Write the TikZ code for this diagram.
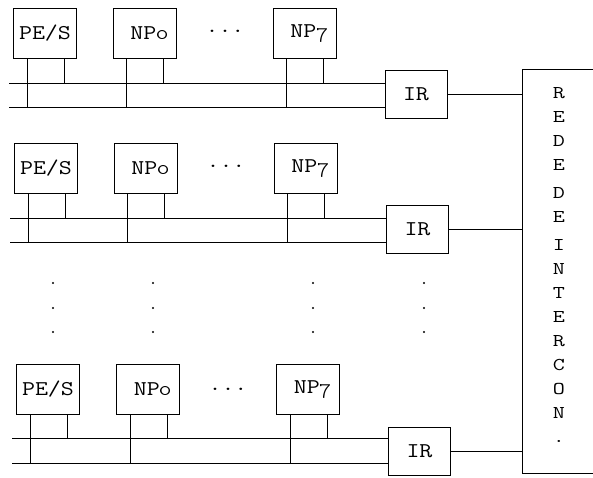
\documentclass[tikz,border=0pt]{standalone}
\usepackage{fix-cm}
\usepackage{graphicx}
\usetikzlibrary{positioning}

% letra de maquina de escrever, mais larga
\newcommand{\wide}[1]{\scalebox{1.2}[1]{#1}}

\begin{document}
\begin{tikzpicture}[
        x=1pt, y=-1pt, line width=0.9pt,
        box/.style={draw, minimum width=63pt, minimum height=50pt, inner sep=0pt, font=\fontencoding{OT1}\fontfamily{cmtt}\fontsize{21}{24}\selectfont},
        npbox/.style={box, text width=49pt, inner xsep=7pt, align=right},
        irbox/.style={draw, minimum width=62pt, minimum height=48pt, font=\fontencoding{OT1}\fontfamily{cmtt}\fontsize{21}{24}\selectfont},
        hdots/.style={font=\fontencoding{OT1}\fontfamily{cmtt}\fontsize{21}{24}\selectfont}
    ]
        \useasboundingbox (0,0) rectangle (593,478);

        % rede de interconexao
        \node[draw, minimum width=74pt, minimum height=404pt] (rede) at (559,271) {};
        \node[inner sep=0pt, font=\fontencoding{OT1}\fontfamily{cmtt}\fontsize{18}{24}\selectfont] (redetxt) at (559,266)
              {\scalebox{1.3}[1]{\begin{tabular}{@{}c@{}}R\\E\\D\\E\\[4pt]D\\E\\[4pt]I\\N\\T\\E\\R\\C\\O\\N\\.\end{tabular}}};

        % primeiro grupo
        \node[box] (pes1) at (45,33) {\wide{PE/S}};
        \node[npbox] (np01) at (144.5,33) {\wide{NP\oldstylenums{0}}};
        \node[hdots] (dots1) at (225,31) {\wide{...}};
        \node[npbox] (np71) at (304.5,33) {\wide{NP\oldstylenums{7}}};
        \node[irbox] (ir1) at (416,94) {\wide{IR}};
        \coordinate (bus1a) at (9,83);
        \coordinate (bus1b) at (9,107);
        \draw (bus1a) -- (bus1a -| ir1.west);
        \draw (bus1b) -- (bus1b -| ir1.west);
        \draw ([xshift=-18pt]pes1.south) -- ([xshift=-18pt]pes1.south |- bus1b);
        \draw ([xshift=19pt]pes1.south) -- ([xshift=19pt]pes1.south |- bus1a);
        \draw ([xshift=-18pt]np01.south) -- ([xshift=-18pt]np01.south |- bus1b);
        \draw ([xshift=19pt]np01.south) -- ([xshift=19pt]np01.south |- bus1a);
        \draw ([xshift=-18pt]np71.south) -- ([xshift=-18pt]np71.south |- bus1b);
        \draw ([xshift=19pt]np71.south) -- ([xshift=19pt]np71.south |- bus1a);
        \draw (ir1) -- (ir1 -| rede.west);

        % segundo grupo
        \node[box] (pes2) at (46,168) {\wide{PE/S}};
        \node[npbox] (np02) at (145.5,168) {\wide{NP\oldstylenums{0}}};
        \node[hdots] (dots2) at (226,166) {\wide{...}};
        \node[npbox] (np72) at (305.5,168) {\wide{NP\oldstylenums{7}}};
        \node[irbox] (ir2) at (417.5,229) {\wide{IR}};
        \coordinate (bus2a) at (10,218);
        \coordinate (bus2b) at (10,242);
        \draw (bus2a) -- (bus2a -| ir2.west);
        \draw (bus2b) -- (bus2b -| ir2.west);
        \draw ([xshift=-18pt]pes2.south) -- ([xshift=-18pt]pes2.south |- bus2b);
        \draw ([xshift=19pt]pes2.south) -- ([xshift=19pt]pes2.south |- bus2a);
        \draw ([xshift=-18pt]np02.south) -- ([xshift=-18pt]np02.south |- bus2b);
        \draw ([xshift=19pt]np02.south) -- ([xshift=19pt]np02.south |- bus2a);
        \draw ([xshift=-18pt]np72.south) -- ([xshift=-18pt]np72.south |- bus2b);
        \draw ([xshift=19pt]np72.south) -- ([xshift=19pt]np72.south |- bus2a);
        \draw (ir2) -- (ir2 -| rede.west);

        % reticencias verticais
        \foreach \x in {53,153,313,424}
            \foreach \y in {283,308,332}
                \fill (\x,\y) circle (1.1pt);

        % ultimo grupo
        \node[box] (pes3) at (48,389) {\wide{PE/S}};
        \node[npbox] (np03) at (148,389) {\wide{NP\oldstylenums{0}}};
        \node[hdots] (dots3) at (228,389) {\wide{...}};
        \node[npbox] (np73) at (308,389) {\wide{NP\oldstylenums{7}}};
        \node[irbox] (ir3) at (419.5,451) {\wide{IR}};
        \coordinate (bus3a) at (12,438);
        \coordinate (bus3b) at (12,463);
        \draw (bus3a) -- (bus3a -| ir3.west);
        \draw (bus3b) -- (bus3b -| ir3.west);
        \draw ([xshift=-18pt]pes3.south) -- ([xshift=-18pt]pes3.south |- bus3b);
        \draw ([xshift=19pt]pes3.south) -- ([xshift=19pt]pes3.south |- bus3a);
        \draw ([xshift=-18pt]np03.south) -- ([xshift=-18pt]np03.south |- bus3b);
        \draw ([xshift=19pt]np03.south) -- ([xshift=19pt]np03.south |- bus3a);
        \draw ([xshift=-18pt]np73.south) -- ([xshift=-18pt]np73.south |- bus3b);
        \draw ([xshift=19pt]np73.south) -- ([xshift=19pt]np73.south |- bus3a);
        \draw (ir3) -- (ir3 -| rede.west);
    \end{tikzpicture}
\end{document}
